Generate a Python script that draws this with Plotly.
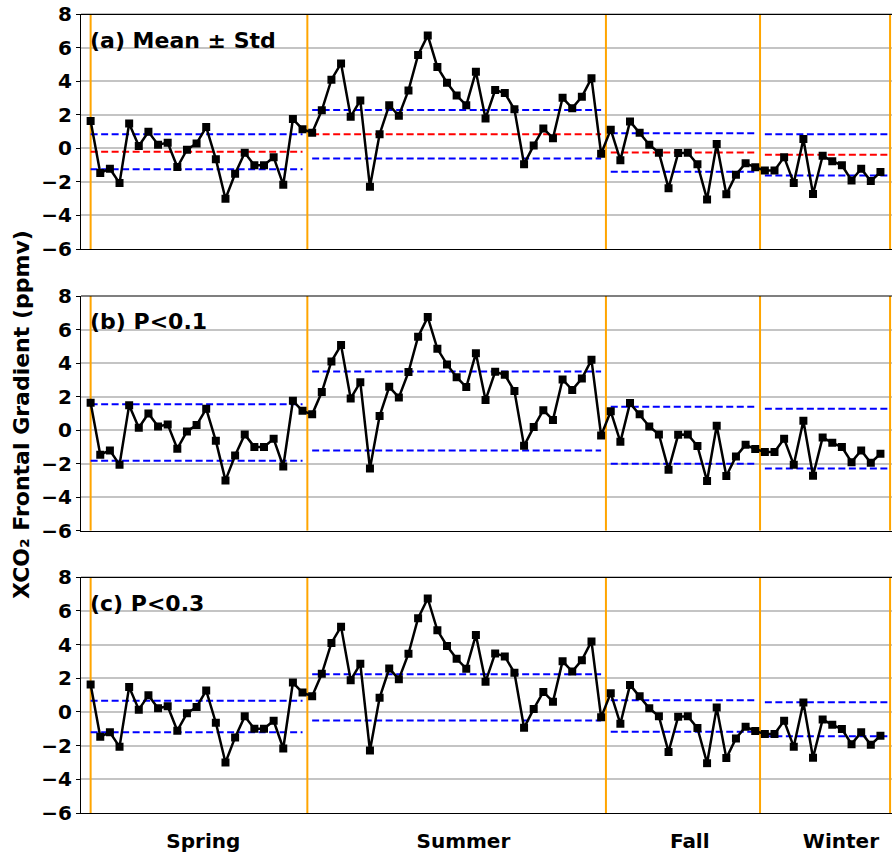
import plotly.graph_objects as go

# ---------------- data ----------------
seasons = ["Spring", "Summer", "Fall", "Winter"]
spring = [1.63, -1.47, -1.21, -2.07, 1.49, 0.14, 0.99, 0.22, 0.34, -1.11, -0.08, 0.30,
          1.27, -0.64, -3.00, -1.51, -0.26, -1.00, -1.00, -0.52, -2.17, 1.75, 1.15]
summer = [0.94, 2.27, 4.10, 5.07, 1.89, 2.86, -2.29, 0.84, 2.58, 1.95, 3.46, 5.57, 6.74,
          4.85, 3.92, 3.16, 2.57, 4.58, 1.79, 3.48, 3.30, 2.33, -0.94, 0.18, 1.19, 0.61,
          3.02, 2.40, 3.08, 4.19, -0.32]
fall = [1.12, -0.70, 1.61, 0.94, 0.22, -0.26, -2.37, -0.28, -0.26, -0.95, -3.04, 0.26,
        -2.74, -1.57, -0.88, -1.13]
winter = [-1.31, -1.31, -0.52, -2.07, 0.56, -2.72, -0.44, -0.76, -1.01, -1.91, -1.21,
          -1.95, -1.41]

# season segment start / end (index) for statistic lines
seg_start = [0, 23, 54, 70]
seg_end = [22, 53, 69, 83]
# season boundary lines (orange)
boundaries = [0, 22.5, 53.5, 69.5, 83]
# season label positions
season_pos = [11.7, 38.7, 62.2, 77.9]

# (a) mean +- std
a_upper = [0.84, 2.29, 0.91, 0.84]
a_mean = [-0.20, 0.84, -0.24, -0.38]
a_lower = [-1.25, -0.60, -1.39, -1.61]
# (b) P<0.1
b_upper = [1.55, 3.50, 1.39, 1.27]
b_lower = [-1.83, -1.22, -2.01, -2.29]
# (c) P<0.3
c_upper = [0.66, 2.24, 0.70, 0.58]
c_lower = [-1.21, -0.51, -1.17, -1.44]

panel_labels = ["(a) Mean ± Std", "(b) P<0.1", "(c) P<0.3"]

values = spring + summer + fall + winter
xs = list(range(len(values)))

# ---------------- figure ----------------
W, H = 892, 852
ml, mr, mt, mb = 81, 0, 14, 39
ph = H - mt - mb
panel_px = [(14.3, 249.0), (296.0, 530.7), (577.3, 813.0)]
domains = [[(H - mb - b) / ph, (H - mb - t) / ph] for t, b in panel_px]
domains = [[max(0, d0), min(1, d1)] for d0, d1 in domains]

fig = go.Figure()
FONT = "DejaVu Sans"

panels = [
    (a_upper, a_mean, a_lower),
    (b_upper, None, b_lower),
    (c_upper, None, c_lower),
]

for p, (up, mean, lo) in enumerate(panels):
    xa = "x" if p == 0 else f"x{p+1}"
    ya = "y" if p == 0 else f"y{p+1}"
    # orange season boundaries
    bx, by = [], []
    for b in boundaries:
        bx += [b, b, None]
        by += [-6, 8, None]
    fig.add_trace(go.Scatter(x=bx, y=by, mode="lines", xaxis=xa, yaxis=ya,
                             line=dict(color="#FFA500", width=2), showlegend=False,
                             hoverinfo="skip"))
    # statistic lines
    for arr, col in [(up, "#0000FF"), (mean, "#FF0000"), (lo, "#0000FF")]:
        if arr is None:
            continue
        lx, ly = [], []
        for s, e, v in zip(seg_start, seg_end, arr):
            lx += [s, e, None]
            ly += [v, v, None]
        fig.add_trace(go.Scatter(x=lx, y=ly, mode="lines", xaxis=xa, yaxis=ya,
                                 line=dict(color=col, width=2, dash="7px,3.5px"),
                                 showlegend=False, hoverinfo="skip"))
    # data
    fig.add_trace(go.Scatter(x=xs, y=values, mode="lines+markers", xaxis=xa, yaxis=ya,
                             line=dict(color="black", width=2.5),
                             marker=dict(symbol="square", size=8, color="black"),
                             showlegend=False))
    # top border line
    fig.add_shape(type="line", xref=f"{xa} domain", yref=f"{ya} domain",
                  x0=0, x1=1, y0=1, y1=1, line=dict(color="black", width=1.2))
    # panel label
    fig.add_annotation(text=panel_labels[p], xref=f"{xa} domain", yref=ya,
                       x=0.009, y=6.45, xanchor="left", yanchor="middle",
                       showarrow=False,
                       font=dict(family=FONT, size=22, color="black", weight="bold"))

layout = dict(
    width=W, height=H,
    margin=dict(l=ml, r=mr, t=mt, b=mb),
    plot_bgcolor="white", paper_bgcolor="white",
    showlegend=False,
)
for p in range(3):
    xk = "xaxis" if p == 0 else f"xaxis{p+1}"
    yk = "yaxis" if p == 0 else f"yaxis{p+1}"
    ya = "y" if p == 0 else f"y{p+1}"
    xa = "x" if p == 0 else f"x{p+1}"
    layout[xk] = dict(range=[-1, 83.2], anchor=ya, domain=[0, 1],
                      showgrid=False, zeroline=False, showline=True,
                      linecolor="black", linewidth=1.2, ticks="",
                      showticklabels=(p == 2),
                      tickmode="array",
                      tickvals=season_pos if p == 2 else [],
                      ticktext=seasons if p == 2 else [],
                      ticklabelstandoff=10,
                      tickfont=dict(family=FONT, size=20, color="black", weight="bold"))
    layout[yk] = dict(range=[-6, 8], anchor=xa, domain=domains[p],
                      tickmode="array", tickvals=[-6, -4, -2, 0, 2, 4, 6, 8],
                      showgrid=True, gridcolor="#c4c4c4", gridwidth=1.5,
                      zeroline=False, showline=True, linecolor="black", linewidth=1.2,
                      ticks="outside", ticklen=4, tickcolor="black", tickwidth=1,
                      tickfont=dict(family=FONT, size=20, color="black", weight="bold"))
fig.update_layout(**layout)

fig.add_annotation(text="XCO₂ Frontal Gradient (ppmv)", xref="paper", yref="paper",
                   x=(22 - ml) / (W - ml - mr), y=(H - mb - 415) / ph,
                   xanchor="center", yanchor="middle", textangle=-90, showarrow=False,
                   font=dict(family=FONT, size=22, color="black", weight="bold"))

fig.write_html("out.html")
